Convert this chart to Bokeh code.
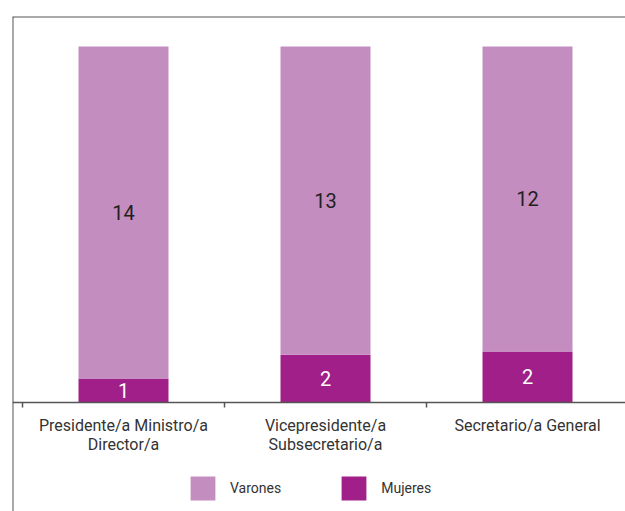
from bokeh.plotting import figure
from bokeh.models import (Range1d, LinearAxis, FixedTicker, Span, ColumnDataSource,
                          Legend, LegendItem)
from bokeh.core.properties import value
from bokeh.embed import file_html
from bokeh.resources import INLINE

# ---- data ----
categories = ["Presidente/a Ministro/a\nDirector/a",
              "Vicepresidente/a\nSubsecretario/a",
              "Secretario/a General"]
varones = [14, 13, 12]
mujeres = [1, 2, 2]
series_names = ["Varones", "Mujeres"]

FONT = "Roboto"
C_VAR = "#C48DBF"
C_MUJ = "#A01F88"
TXT = "#333333"

xc = [i + 0.5 for i in range(len(categories))]
tot = [v + m for v, m in zip(varones, mujeres)]
muj_pct = [m / t for m, t in zip(mujeres, tot)]
var_pct = [v / t for v, t in zip(varones, tot)]
src = ColumnDataSource(dict(
    x=xc, Mujeres=muj_pct, Varones=var_pct,
    muj_lab=[str(m) for m in mujeres], var_lab=[str(v) for v in varones],
    muj_mid=[p / 2 for p in muj_pct],
    var_mid=[mp + vp / 2 for mp, vp in zip(muj_pct, var_pct)],
))

p = figure(width=625, height=511, output_backend="svg", toolbar_location=None,
           x_range=Range1d(-0.0495, 2.9851), y_range=Range1d(-0.3073, 1.0844),
           min_border_left=12, min_border_top=16, min_border_right=0,
           min_border_bottom=0, x_axis_type=None, y_axis_type=None)
p.outline_line_color = None
p.grid.visible = False
p.background_fill_color = "white"
p.border_fill_color = "white"

rs = p.vbar_stack(["Mujeres", "Varones"], x="x", width=0.4455, source=src,
                  color=[C_MUJ, C_VAR], line_color=None)

# frame border (left & top)
p.add_layout(Span(location=-0.0495, dimension="height", line_color="#555555", line_width=2))
p.add_layout(Span(location=1.0844, dimension="width", line_color="#555555", line_width=2))

# axis with boundary ticks
ax1 = LinearAxis(ticker=FixedTicker(ticks=[0, 1, 2, 3]), fixed_location=0,
                 axis_line_color="#555555", axis_line_width=1.5,
                 major_tick_line_color="#555555", major_tick_line_width=1.5,
                 major_tick_out=5, major_tick_in=0, minor_tick_line_color=None,
                 major_label_text_font_size="0px")
ax1.major_label_overrides = {0: "", 1: "", 2: "", 3: ""}
p.add_layout(ax1, "below")

# axis with category labels
ax2 = LinearAxis(ticker=FixedTicker(ticks=xc), fixed_location=0,
                 axis_line_color=None, major_tick_line_color=None,
                 minor_tick_line_color=None, major_tick_out=0, major_tick_in=0,
                 major_label_standoff=14,
                 major_label_text_font=FONT, major_label_text_font_size="16px",
                 major_label_text_color=TXT, major_label_text_line_height=1.0)
ax2.major_label_overrides = {x: c for x, c in zip(xc, categories)}
p.add_layout(ax2, "below")

# value labels
p.text(x="x", y="var_mid", text="var_lab", source=src, text_align="center",
       text_baseline="middle", text_font=value(FONT), text_font_size="20px",
       text_color="#231F20")
p.text(x="x", y="muj_mid", text="muj_lab", source=src, text_align="center",
       text_baseline="middle", text_font=value(FONT), text_font_size="20px",
       text_color="white")

legend = Legend(items=[LegendItem(label=series_names[0], renderers=[rs[1]]),
                       LegendItem(label=series_names[1], renderers=[rs[0]])],
                orientation="horizontal", location=(175, 8),
                glyph_width=31, glyph_height=30, label_standoff=12, spacing=57,
                padding=0, margin=0, border_line_color=None,
                background_fill_alpha=0, label_text_font=FONT,
                label_text_font_size="14px", label_text_color=TXT,
                label_height=30)
p.add_layout(legend, "center")

open("out.html", "w").write(file_html(p, INLINE))
